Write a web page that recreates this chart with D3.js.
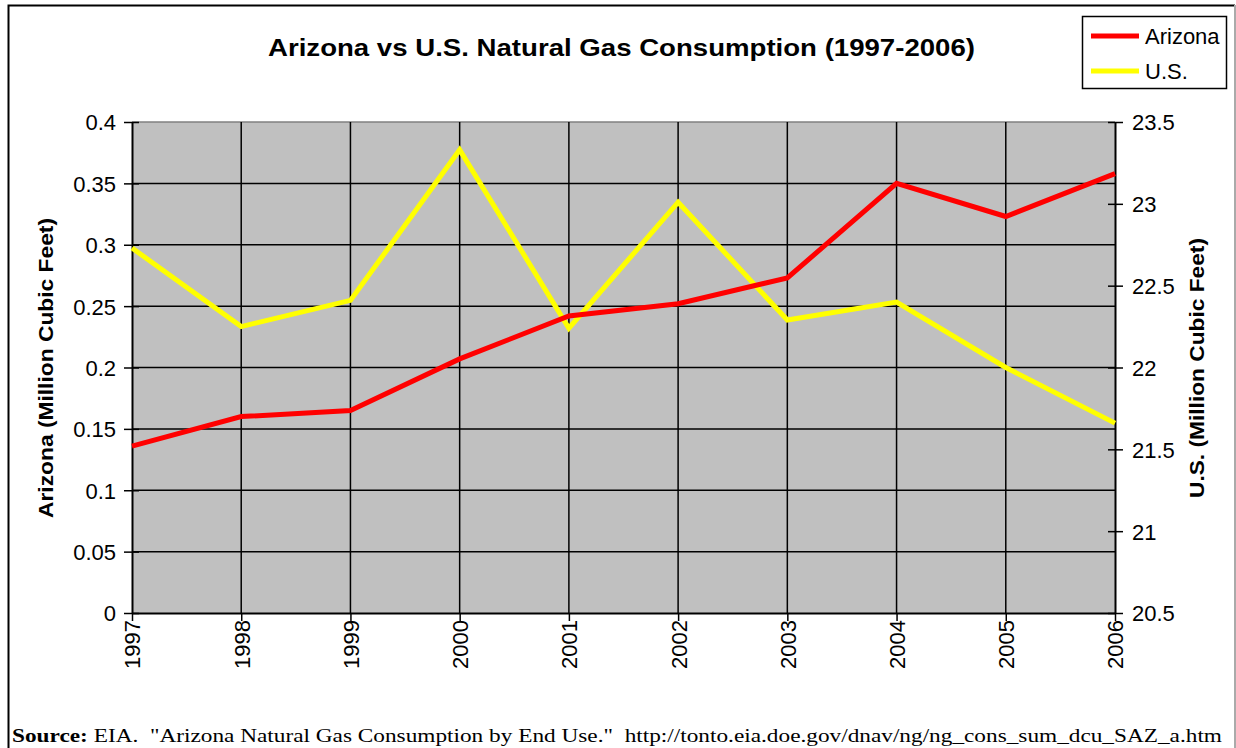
<!DOCTYPE html>
<html>
<head>
<meta charset="utf-8">
<title>Arizona vs U.S. Natural Gas Consumption</title>
<script src="https://cdn.jsdelivr.net/npm/d3@7"></script>
<style>
  body { margin: 0; background: #fff; }
</style>
</head>
<body>
<script>
    var years = [1997, 1998, 1999, 2000, 2001, 2002, 2003, 2004, 2005, 2006];
    var arizona = [0.136, 0.160, 0.165, 0.207, 0.242, 0.252, 0.273, 0.350, 0.323, 0.358];
    var us = [22.73, 22.25, 22.41, 23.33, 22.24, 23.01, 22.29, 22.40, 22.00, 21.66];
    var leftTicks = [0, 0.05, 0.1, 0.15, 0.2, 0.25, 0.3, 0.35, 0.4];
    var rightTicks = [20.5, 21, 21.5, 22, 22.5, 23, 23.5];

    var width = 1236, height = 748;
    var plot = {left: 132, right: 1115, top: 122, bottom: 613};
    var sans = "Arial, 'Liberation Sans', sans-serif";

    var svg = d3.select("body").append("svg")
        .attr("width", width)
        .attr("height", height)
        .attr("font-family", sans);

    // outer frame (bottom edge runs off the picture)
    svg.append("path")
        .attr("d", "M8.5,748 V5.5 H1235")
        .attr("fill", "none")
        .attr("stroke", "#000")
        .attr("stroke-width", 2);
    svg.append("line")
        .attr("x1", 1235).attr("x2", 1235).attr("y1", 5).attr("y2", 748)
        .attr("stroke", "#aaa").attr("stroke-width", 2);

    var x = d3.scalePoint().domain(years).range([plot.left, plot.right]);
    var yL = d3.scaleLinear().domain([0, 0.4]).range([plot.bottom, plot.top]);
    var yR = d3.scaleLinear().domain([20.5, 23.5]).range([plot.bottom, plot.top]);

    svg.append("rect")
        .attr("x", plot.left).attr("y", plot.top)
        .attr("width", plot.right - plot.left)
        .attr("height", plot.bottom - plot.top)
        .attr("fill", "#c0c0c0");

    // gridlines
    svg.append("g").selectAll("line").data(leftTicks.slice(1)).enter().append("line")
        .attr("x1", plot.left).attr("x2", plot.right)
        .attr("y1", function(d){ return yL(d); })
        .attr("y2", function(d){ return yL(d); })
        .attr("stroke", function(d){ return d === 0.4 ? "#808080" : "#000"; })
        .attr("stroke-width", 1.5);
    svg.append("g").selectAll("line").data(years.slice(1, -1)).enter().append("line")
        .attr("x1", function(d){ return x(d); })
        .attr("x2", function(d){ return x(d); })
        .attr("y1", plot.top).attr("y2", plot.bottom)
        .attr("stroke", "#000")
        .attr("stroke-width", 1.5);

    // axes
    var leftAxis = svg.append("g")
        .attr("transform", "translate(" + plot.left + ",0)")
        .call(d3.axisLeft(yL).tickValues(leftTicks).tickSizeInner(8).tickSizeOuter(0)
            .tickFormat(function(d){ return d3.format("")(+d.toFixed(2)); }));
    var rightAxis = svg.append("g")
        .attr("transform", "translate(" + plot.right + ",0)")
        .call(d3.axisRight(yR).tickValues(rightTicks).tickSizeInner(8).tickSizeOuter(0)
            .tickFormat(function(d){ return d; }));
    var bottomAxis = svg.append("g")
        .attr("transform", "translate(0," + plot.bottom + ")")
        .call(d3.axisBottom(x).tickSizeInner(8).tickSizeOuter(0));

    [leftAxis, rightAxis, bottomAxis].forEach(function(g){
        g.attr("font-family", sans).attr("font-size", 22);
        g.select(".domain").attr("stroke", "#000").attr("stroke-width", 2);
        g.selectAll(".tick line").attr("stroke", "#000").attr("stroke-width", 1.5);
        g.selectAll("text").attr("fill", "#000");
    });
    leftAxis.selectAll(".tick line").attr("x1", 7);
    rightAxis.selectAll(".tick line").attr("x1", -7);
    leftAxis.selectAll("text").attr("x", -16).attr("dy", "0.36em");
    rightAxis.selectAll("text").attr("x", 17).attr("dy", "0.36em");
    bottomAxis.selectAll("text")
        .attr("transform", "rotate(-90)")
        .attr("text-anchor", "end")
        .attr("x", -7).attr("y", 0).attr("dy", "0.36em");

    // lines
    var lineL = d3.line().x(function(d, i){ return x(years[i]); }).y(function(d){ return yL(d); });
    var lineR = d3.line().x(function(d, i){ return x(years[i]); }).y(function(d){ return yR(d); });

    svg.append("path").datum(us)
        .attr("d", lineR)
        .attr("fill", "none").attr("stroke", "#ffff00")
        .attr("stroke-width", 5).attr("stroke-linejoin", "miter");
    svg.append("path").datum(arizona)
        .attr("d", lineL)
        .attr("fill", "none").attr("stroke", "#ff0000")
        .attr("stroke-width", 5).attr("stroke-linejoin", "miter");

    // title
    svg.append("text")
        .attr("x", 268).attr("y", 56)
        .attr("font-size", 24).attr("font-weight", "bold")
        .attr("textLength", 707).attr("lengthAdjust", "spacingAndGlyphs")
        .text("Arizona vs U.S. Natural Gas Consumption (1997-2006)");

    // axis titles
    svg.append("text")
        .attr("transform", "translate(53,518) rotate(-90)")
        .attr("font-size", 21).attr("font-weight", "bold")
        .attr("textLength", 300).attr("lengthAdjust", "spacingAndGlyphs")
        .text("Arizona (Million Cubic Feet)");
    svg.append("text")
        .attr("transform", "translate(1204,498) rotate(-90)")
        .attr("font-size", 21).attr("font-weight", "bold")
        .attr("textLength", 260).attr("lengthAdjust", "spacingAndGlyphs")
        .text("U.S. (Million Cubic Feet)");

    // legend
    var legend = svg.append("g");
    legend.append("rect")
        .attr("x", 1082.5).attr("y", 16.5).attr("width", 144).attr("height", 72)
        .attr("fill", "#fff").attr("stroke", "#000").attr("stroke-width", 1.5);
    var items = [{name: "Arizona", color: "#ff0000"}, {name: "U.S.", color: "#ffff00"}];
    legend.selectAll("g").data(items).enter().append("g")
        .each(function(d, i){
            var g = d3.select(this);
            var yy = 36 + i * 35;
            g.append("line")
                .attr("x1", 1091).attr("x2", 1139).attr("y1", yy).attr("y2", yy)
                .attr("stroke", d.color).attr("stroke-width", 5);
            g.append("text")
                .attr("x", 1145).attr("y", yy).attr("dy", "0.36em")
                .attr("font-size", 22)
                .text(d.name);
        });

    // source note
    var src = svg.append("text")
        .attr("x", 12).attr("y", 742)
        .attr("font-family", "'Liberation Serif', 'Times New Roman', serif")
        .attr("font-size", 19)
        .attr("textLength", 1210).attr("lengthAdjust", "spacingAndGlyphs");
    src.append("tspan").attr("font-weight", "bold").text("Source:");
    src.append("tspan").attr("xml:space", "preserve")
        .text(" EIA.  \"Arizona Natural Gas Consumption by End Use.\"  http://tonto.eia.doe.gov/dnav/ng/ng_cons_sum_dcu_SAZ_a.htm");
</script>
</body>
</html>
